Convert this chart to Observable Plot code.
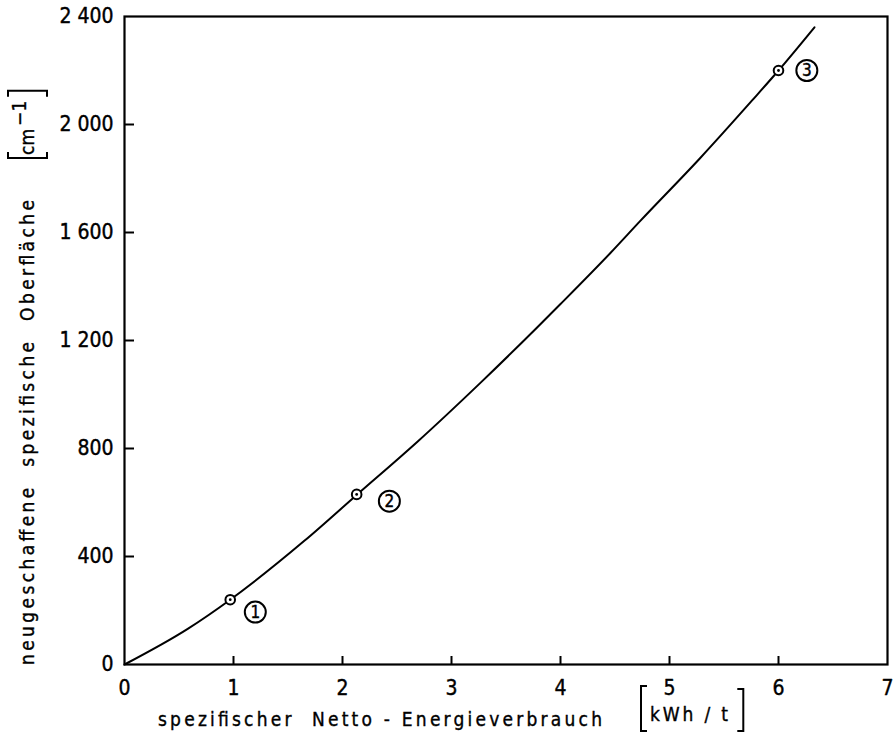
<!DOCTYPE html>
<html>
<head>
<meta charset="utf-8">
<script src="https://cdn.jsdelivr.net/npm/d3@7"></script>
<script src="https://cdn.jsdelivr.net/npm/@observablehq/plot@0.6"></script>
<style>
  html, body { margin: 0; padding: 0; background: #fff; }
  svg { display: block; }
</style>
</head>
<body>
<div id="chart"></div>
<script>
// ---- data ----
const curveX = [0, 0.58, 0.97, 1.65, 2.13, 2.69, 3.27, 3.79, 4.0, 4.46, 4.73, 5.28, 5.76, 6.0, 6.33];
const curveY = [0, 132, 240, 458, 628, 826, 1045, 1250, 1335, 1525, 1642, 1875, 2090, 2200, 2360];

const pointX = [0.97, 2.13, 6.0];
const pointY = [240, 630, 2200];

const labelText = ["1", "2", "3"];
const labelX = [1.2, 2.43, 6.26];
const labelY = [194, 605, 2200];

const xTicks = [0, 1, 2, 3, 4, 5, 6, 7];
const xTickLabels = ["0", "1", "2", "3", "4", "5", "6", "7"];
const yTicks = [0, 400, 800, 1200, 1600, 2000, 2400];
const yTickLabels = ["0", "400", "800", "1 200", "1 600", "2 000", "2 400"];

const xTitle = "spezifischer  Netto - Energieverbrauch";
const xUnit = "kWh / t";
const yTitle = "neugeschaffene  spezifische  Oberfläche";
const yUnit = "cm";
const yUnitExp = "−1";

// ---- build tables ----
const curve = curveX.map((x, i) => ({x, y: curveY[i]}));
const points = pointX.map((x, i) => ({x, y: pointY[i]}));
const labels = labelX.map((x, i) => ({x, y: labelY[i], t: labelText[i]}));
const xFmt = new Map(xTicks.map((d, i) => [d, xTickLabels[i]]));
const yFmt = new Map(yTicks.map((d, i) => [d, yTickLabels[i]]));
const innerXTicks = xTicks.slice(1, -1);
const innerYTicks = yTicks.slice(1, -1);

const W = 896, H = 733;
const mL = 124, mR = 9, mT = 16, mB = 69;
const innerW = W - mL - mR, innerH = H - mT - mB;
const xTickLen = 8, yTickLen = 10;

const font = '"DejaVu Sans Condensed", "DejaVu Sans", sans-serif';
const titleFont = '"DejaVu Sans", sans-serif';

const plot = Plot.plot({
  width: W,
  height: H,
  marginLeft: mL,
  marginRight: mR,
  marginTop: mT,
  marginBottom: mB,
  style: {fontFamily: font, fontSize: "21px", color: "#000", background: "#fff", fontStretch: "condensed"},
  x: {domain: [0, 7], label: null},
  y: {domain: [0, 2400], label: null},
  marks: [
    Plot.frame({stroke: "#000", strokeWidth: 2.2}),
    // inward ticks: full-height ticks inset so only a short stub remains at the axis
    Plot.tickX(innerXTicks, {x: d => d, insetTop: innerH - xTickLen, stroke: "#000", strokeWidth: 2}),
    Plot.tickY(innerYTicks, {y: d => d, insetRight: innerW - yTickLen, stroke: "#000", strokeWidth: 2}),
    Plot.axisX(xTicks, {tickSize: 0, tickPadding: 16, tickFormat: d => xFmt.get(d), fontSize: 21,
      textStroke: "#000", textStrokeWidth: 0.4, label: null}),
    Plot.axisY(yTicks, {tickSize: 0, tickPadding: 11, tickFormat: d => yFmt.get(d), fontSize: 21,
      textStroke: "#000", textStrokeWidth: 0.4, label: null}),
    Plot.line(curve, {x: "x", y: "y", curve: "monotone-x", stroke: "#000", strokeWidth: 2}),
    Plot.dot(points, {x: "x", y: "y", r: 4.8, stroke: "#000", fill: "#fff", strokeWidth: 2}),
    Plot.dot(points, {x: "x", y: "y", r: 1.4, fill: "#000"}),
    Plot.dot(labels, {x: "x", y: "y", r: 10.5, stroke: "#000", fill: "none", strokeWidth: 2}),
    Plot.text(labels, {x: "x", y: "y", text: "t", fontSize: 17, fill: "#000", stroke: "#000", strokeWidth: 0.4})
  ]
});

document.getElementById("chart").append(plot);
const svg = d3.select(plot);

const g = svg.append("g")
  .attr("font-family", titleFont)
  .attr("text-anchor", "start")
  .attr("fill", "#000")
  .attr("stroke", "#000")
  .attr("stroke-width", 0.35);

function bracket(parent, x, y1, y2, dir) {
  parent.append("path")
    .attr("d", `M${x + dir * 6},${y1}L${x},${y1}L${x},${y2}L${x + dir * 6},${y2}`)
    .attr("fill", "none")
    .attr("stroke", "#000")
    .attr("stroke-width", 2);
}

// x-axis title
g.append("text")
  .attr("x", 158).attr("y", 726)
  .attr("font-size", 19)
  .attr("textLength", 444).attr("lengthAdjust", "spacing")
  .style("white-space", "pre")
  .text(xTitle);

const xu = g.append("text")
  .attr("x", 650).attr("y", 721)
  .attr("font-size", 19)
  .attr("textLength", 78).attr("lengthAdjust", "spacing")
  .style("white-space", "pre")
  .text(xUnit);
const xb = xu.node().getBBox();
bracket(g, xb.x - 9, 686, 731, +1);
bracket(g, xb.x + xb.width + 15, 689, 731, -1);

// y-axis title (rotated)
const yg = g.append("g").attr("transform", "translate(34,665) rotate(-90)");
yg.append("text")
  .attr("x", 0).attr("y", 0)
  .attr("font-size", 19)
  .attr("textLength", 465).attr("lengthAdjust", "spacing")
  .style("white-space", "pre")
  .text(yTitle);

const yu = yg.append("text").attr("x", 510).attr("y", 0).attr("font-size", 19);
yu.append("tspan").text(yUnit);
yu.append("tspan").attr("dx", 3).attr("dy", -8).text(yUnitExp);
const yb = yu.node().getBBox();
bracket(yg, yb.x - 3, -26, 13, +1);
bracket(yg, yb.x + yb.width + 10, -26, 13, -1);
</script>
</body>
</html>
